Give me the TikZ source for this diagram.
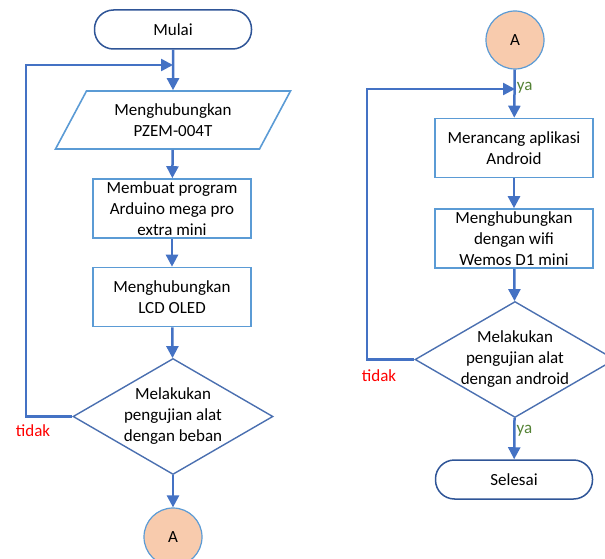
\documentclass[tikz,border=0pt]{standalone}
\usepackage{fontspec}
\setmainfont{Carlito}
\usetikzlibrary{calc}
\usetikzlibrary{positioning}
\usetikzlibrary{shapes.geometric}
\usetikzlibrary{arrows.meta}
\definecolor{garis}{HTML}{4472C4}
\definecolor{kotak}{HTML}{5B9BD5}
\definecolor{tepi}{HTML}{2F5597}
\definecolor{belah}{HTML}{4A6FB0}
\definecolor{oranye}{HTML}{F8CBAD}
\definecolor{hijau}{HTML}{548235}
\tikzset{
  terminal/.style = {draw=tepi, line width=1.5pt, rounded corners=19pt,
    minimum width=157pt, minimum height=39pt, inner sep=0pt},
  proses/.style = {draw=kotak, line width=1.6pt, minimum width=158pt,
    minimum height=59pt, inner sep=0pt, align=center},
  masukan/.style = {trapezium, trapezium left angle=57.5, trapezium right angle=122.5,
    trapezium stretches=true, draw=kotak, line width=1.6pt, minimum width=235pt,
    minimum height=58pt, inner sep=0pt, align=center},
  keputusan/.style = {diamond, draw=belah, line width=1.4pt, minimum width=200pt,
    minimum height=116pt, inner sep=-16pt, align=center},
  konektor/.style = {circle, draw=kotak, fill=oranye, line width=1.2pt,
    minimum size=58pt, inner sep=0pt},
  panah/.style = {draw=garis, line width=2.5pt, -{Triangle[width=12pt,length=12pt]}},
  tidak/.style = {text=red, inner sep=0pt},
  ya/.style = {text=hijau, inner sep=1pt}
}
\begin{document}
\begin{tikzpicture}[x=1pt, y=-1pt, font=\fontsize{17}{21}\selectfont]
      \useasboundingbox (0,0) rectangle (605,559);

      \node[terminal] (mulai) at (173,29.5) {Mulai};
      \node[masukan] (pzem) at (173,120) {Menghubungkan\\PZEM-004T};
      \node[proses] (program) at (172,208.5) {Membuat program\\Arduino mega pro\\extra mini};
      \node[proses] (lcd) at (172,297) {Menghubungkan\\LCD OLED};
      \node[keputusan] (uji1) at (173,416.5) {Melakukan\\pengujian alat\\dengan beban};
      \node[konektor] (a1) at (173,537) {A};
      \coordinate (j1) at (173,65);
      \coordinate (k1) at (26,65);
      \node[tidak] (tidak1) at (33,431) {tidak};

      \node[konektor] (a2) at (515,40) {A};
      \node[proses] (rancang) at (514,148) {Merancang aplikasi\\Android};
      \node[proses] (wifi) at (514,238.5) {Menghubungkan\\dengan wifi\\Wemos D1 mini};
      \node[keputusan] (uji2) at (515,359.5) {Melakukan\\pengujian alat\\dengan android};
      \node[terminal] (selesai) at (514,479.5) {Selesai};
      \coordinate (j2) at (515,89);
      \coordinate (k2) at (367,89);
      \node[tidak] (tidak2) at (379,376) {tidak};

      \draw[panah] (mulai) -- (pzem);
      \draw[panah] (pzem) -- (program);
      \draw[panah] (program) -- (lcd);
      \draw[panah] (lcd) -- (uji1);
      \draw[panah] (uji1) -- (a1);
      \draw[panah] (uji1.west) -| (k1) -- (j1);

      \draw[panah] (a2) -- node[ya, pos=0.38, right] (ya1) {ya} (rancang);
      \draw[panah] (rancang) -- (wifi);
      \draw[panah] (wifi) -- (uji2);
      \draw[panah] (uji2) -- node[ya, pos=0.3, right] (ya2) {ya} (selesai);
      \draw[panah] (uji2.west) -| (k2) -- (j2);
    \end{tikzpicture}
\end{document}
